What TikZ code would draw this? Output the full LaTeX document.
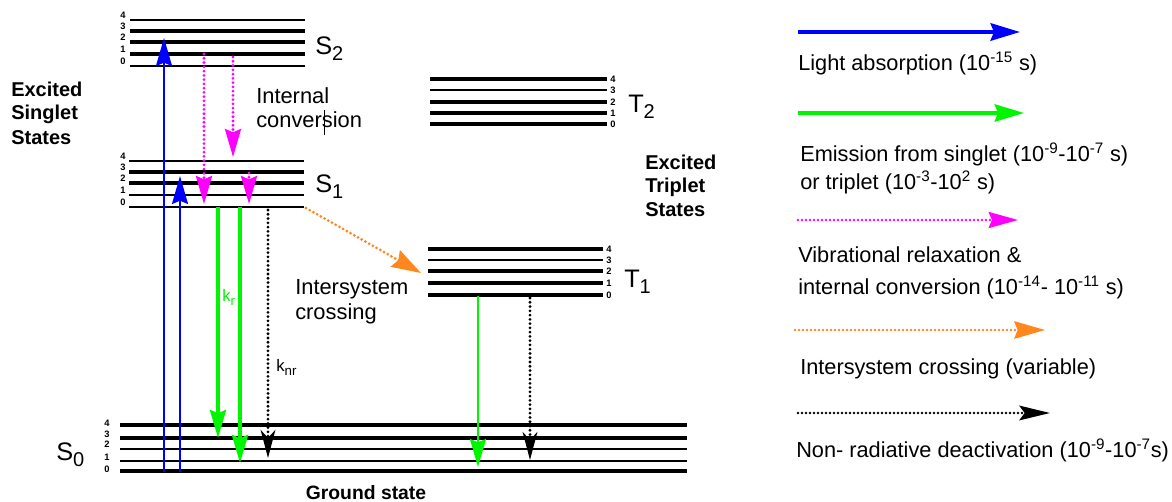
\documentclass[tikz,border=0pt]{standalone}
\usepackage{fontspec}
\setmainfont{Liberation Sans}
\usetikzlibrary{arrows.meta}
\definecolor{cblue}{RGB}{0,0,255}
\definecolor{cgreen}{RGB}{0,245,0}
\definecolor{cmag}{RGB}{255,0,255}
\definecolor{corange}{RGB}{255,135,30}
\tikzset{
  num/.style={font=\bfseries\fontsize{7}{7}\selectfont, inner sep=0pt},
  lbl/.style={anchor=base west, inner sep=0pt, font=\fontsize{16.4}{18}\selectfont},
  blbl/.style={anchor=base west, inner sep=0pt, font=\bfseries\fontsize{15}{17}\selectfont},
  leg/.style={anchor=base west, inner sep=0pt, font=\fontsize{16.3}{18}\selectfont},
  statelbl/.style={anchor=base west, inner sep=0pt, font=\fontsize{19}{20}\selectfont},
  tip/.style={-{Stealth[length=21pt,width=12pt,inset=2.5pt]}},
  ntip/.style={-{Stealth[length=21pt,width=11pt,inset=6pt]}},
  dots/.style={line width=2.3pt, line cap=round, dash pattern=on 0pt off 3.2pt},
  ldots/.style={line width=2pt, line cap=round, dash pattern=on 0pt off 3pt},
}
\newcommand{\sub}[1]{\raisebox{-4.5pt}{\fontsize{15}{15}\selectfont #1}}
\begin{document}
\begin{tikzpicture}[x=0.75pt,y=-0.75pt]
\useasboundingbox (0,0) rectangle (1172,502);

% ---- energy levels ----
% S2
\foreach \yy/\w [count=\i from 0] in {66/1.7,54/3.2,42/2.5,31/2.5,20/1.3}{
  \draw[line width=\w pt] (130,\yy) -- (305,\yy);
  \node[num] (s2n\i) at (123,\yy-5) {\i};
}
% S1
\foreach \yy/\w [count=\i from 0] in {207/1.5,195/2.0,183/2.5,172/2.5,161/1.5}{
  \draw[line width=\w pt] (129,\yy) -- (304,\yy);
  \node[num] (s1n\i) at (123,\yy-5) {\i};
}
% T2
\foreach \yy/\w [count=\i from 0] in {124/3.0,113/2.8,102/3.2,90/1.7,79/3.5}{
  \draw[line width=\w pt] (430,\yy) -- (607,\yy);
  \node[num] (t2n\i) at (613,\yy) {\i};
}
% T1
\foreach \yy/\w [count=\i from 0] in {295/2.8,283/2.8,271/3.7,260/1.7,249/2.5}{
  \draw[line width=\w pt] (428,\yy) -- (603,\yy);
  \node[num] (t1n\i) at (609,\yy) {\i};
}
% S0
\foreach \yy/\ny/\w [count=\i from 0] in {471/469/3.0,461/457/1.9,449/444/1.9,438/434/2.5,425/423/3.0}{
  \draw[line width=\w pt] (120,\yy) -- (687,\yy);
  \node[num] (s0n\i) at (107,\ny) {\i};
}

% ---- state labels ----
\node[statelbl] (S2) at (315,55) {S\sub{2}};
\node[statelbl] (S1) at (315,193) {S\sub{1}};
\node[statelbl] (S0) at (56,460) {S\sub{0}};
\node[statelbl] (T2) at (628,113) {T\sub{2}};
\node[statelbl] (T1) at (624,288) {T\sub{1}};

% ---- texts ----
\node[blbl] (es1) at (11,97) {Excited};
\node[blbl] (es2) at (11,120) {Singlet};
\node[blbl] (es3) at (11,145) {States};
\node[blbl] (et1) at (645,170) {Excited};
\node[blbl] (et2) at (645,193) {Triplet};
\node[blbl] (et3) at (645,217) {States};
\node[lbl] (ic1) at (256,104) {Internal};
\node[lbl] (ic2) at (256,128) {conversion};
\draw[line width=0.7pt] (324,110) -- (324,135);
\node[lbl] (isc1) at (295,295) {Intersystem};
\node[lbl] (isc2) at (295,320) {crossing};
\node[anchor=base, inner sep=0pt, font=\bfseries\fontsize{14.5}{17}\selectfont] (gs) at (366,499) {Ground state};
\node[anchor=base west, inner sep=0pt, text=cgreen, font=\fontsize{12.5}{14}\selectfont] (kr) at (222,302) {k\raisebox{-3pt}{\fontsize{10}{10}\selectfont r}};
\node[anchor=base west, inner sep=0pt, font=\fontsize{12.5}{14}\selectfont] (knr) at (276,372) {k\raisebox{-3pt}{\fontsize{10}{10}\selectfont nr}};

% ---- transitions ----
\coordinate (a1s) at (164,472); \coordinate (a1e) at (164,38);
\coordinate (a2s) at (180,472); \coordinate (a2e) at (180,176);
\draw[cblue, line width=1.5pt, tip] (a1s) -- (a1e);
\draw[cblue, line width=1.5pt, tip] (a2s) -- (a2e);

\coordinate (m1s) at (204,54); \coordinate (m1e) at (204,204);
\coordinate (m2s) at (233,57); \coordinate (m2e) at (233,157);
\coordinate (m3s) at (249,173); \coordinate (m3e) at (249,204);
\draw[cmag, dots, tip] (m1s) -- (m1e);
\draw[cmag, dots, tip] (m2s) -- (m2e);
\draw[cmag, dots, tip] (m3s) -- (m3e);

\coordinate (g1s) at (218,207); \coordinate (g1e) at (218,438);
\coordinate (g2s) at (240,207); \coordinate (g2e) at (240,463);
\draw[cgreen, line width=3pt, tip] (g1s) -- (g1e);
\draw[cgreen, line width=3pt, tip] (g2s) -- (g2e);

\coordinate (n1s) at (268,210); \coordinate (n1e) at (268,458);
\draw[black, dots, ntip] (n1s) -- (n1e);

\coordinate (os) at (306,208); \coordinate (oe) at (421,273);
\draw[corange, dots, -{Stealth[length=22pt,width=14pt,inset=2.5pt]}] (os) -- (oe);

\coordinate (g3s) at (478,296); \coordinate (g3e) at (478,467);
\draw[cgreen, line width=1.6pt, tip] (g3s) -- (g3e);
\coordinate (n2s) at (530,298); \coordinate (n2e) at (530,460);
\draw[black, dots, ntip] (n2s) -- (n2e);

% ---- legend ----
\coordinate (lb1) at (798,32); \coordinate (lb2) at (1020,32);
\draw[cblue, line width=3pt, -{Stealth[length=22pt,width=13pt,inset=2.5pt]}] (lb1) -- (lb2);
\node[leg] (lt1) at (798,71) {Light absorption (10\textsuperscript{-15} s)};

\coordinate (lg1) at (798,113); \coordinate (lg2) at (1024,113);
\draw[cgreen, line width=2.3pt, -{Stealth[length=22pt,width=13pt,inset=2.5pt]}] (lg1) -- (lg2);
\node[leg] (lt2a) at (800,162) {Emission from singlet (10\textsuperscript{-9}-10\textsuperscript{-7} s)};
\node[leg] (lt2b) at (800,190) {or triplet (10\textsuperscript{-3}-10\textsuperscript{2} s)};

\coordinate (lm1) at (798,220); \coordinate (lm2) at (1018,220);
\draw[cmag, ldots, -{Stealth[length=22pt,width=12pt,inset=2.5pt]}] (lm1) -- (lm2);
\node[leg] (lt3a) at (798,263) {Vibrational relaxation \&};
\node[leg] (lt3b) at (798,295) {internal conversion (10\textsuperscript{-14}- 10\textsuperscript{-11} s)};

\coordinate (lo1) at (795,330); \coordinate (lo2) at (1045,330);
\draw[corange, ldots, -{Stealth[length=23pt,width=13pt,inset=2.5pt]}] (lo1) -- (lo2);
\node[leg] (lt4) at (800,375) {Intersystem crossing (variable)};

\coordinate (lk1) at (798,413); \coordinate (lk2) at (1050,413);
\draw[black, ldots, -{Stealth[length=23pt,width=11pt,inset=4pt]}] (lk1) -- (lk2);
\node[leg] (lt5) at (796,458) {Non- radiative deactivation (10\textsuperscript{-9}-10\textsuperscript{-7}s)};
\end{tikzpicture}
\end{document}
